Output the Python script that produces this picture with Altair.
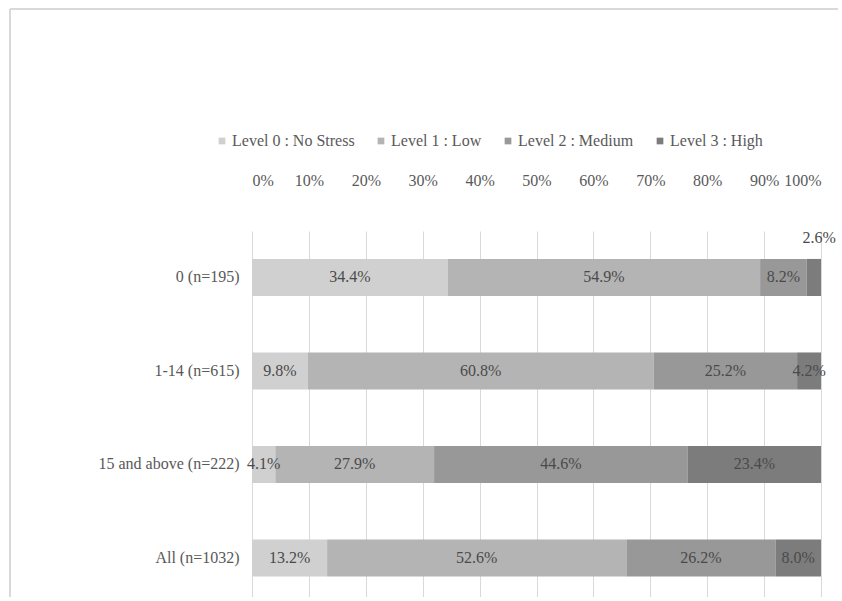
import altair as alt
import pandas as pd

groups = ["0 (n=195)", "1-14 (n=615)", "15 and above (n=222)", "All (n=1032)"]
levels = ["Level 0 : No Stress", "Level 1 : Low", "Level 2 : Medium", "Level 3 : High"]
level0 = [34.4, 9.8, 4.1, 13.2]
level1 = [54.9, 60.8, 27.9, 52.6]
level2 = [8.2, 25.2, 44.6, 26.2]
level3 = [2.6, 4.2, 23.4, 8.0]
colors = ["#d0d0d0", "#b4b4b4", "#989898", "#7c7c7c"]
ticks = [0, 10, 20, 30, 40, 50, 60, 70, 80, 90, 100]

rows = []
for gi, g in enumerate(groups):
    for li, series in enumerate([level0, level1, level2, level3]):
        rows.append({"group": g, "level": levels[li], "order": li, "value": series[gi]})
df = pd.DataFrame(rows)

FONT = "Liberation Serif, Times New Roman, DejaVu Serif, serif"
FS = 16

base = alt.Chart(df).transform_stack(
    stack="value", groupby=["group"], as_=["x0", "x1"], sort=[alt.SortField("order")]
).transform_calculate(
    mid="(datum.x0 + datum.x1) / 2",
    label="format(datum.value, '.1f') + '%'",
)

yenc = alt.Y(
    "group:N",
    sort=groups,
    title=None,
    scale=alt.Scale(paddingInner=0.604, paddingOuter=0.259, align=0.577),
    axis=alt.Axis(
        labelFont=FONT, labelFontSize=FS, labelColor="#595959",
        labelPadding=13, ticks=False, domain=False, grid=False,
    ),
)

xscale = alt.Scale(domain=[0, 100], nice=False, clamp=True)

bars = base.mark_bar().encode(
    x=alt.X(
        "x0:Q",
        scale=xscale,
        title=None,
        axis=alt.Axis(
            orient="top", values=ticks, labelExpr="datum.value + '%'",
            labelFont=FONT, labelFontSize=FS, labelColor="#595959",
            labelPadding=43, ticks=False, domain=False,
            grid=True, gridColor="#d9d9d9", gridWidth=1,
        ),
    ),
    x2="x1:Q",
    y=yenc,
    color=alt.Color(
        "level:N",
        sort=levels,
        scale=alt.Scale(domain=levels, range=colors),
        legend=alt.Legend(
            title=None, orient="none", direction="horizontal", columns=4,
            legendX=-38, legendY=-98,
            symbolType="square", symbolSize=45, symbolStrokeWidth=0,
            labelFont=FONT, labelFontSize=FS, labelColor="#595959",
            labelOffset=2, columnPadding=18,
        ),
    ),
    order=alt.Order("order:Q"),
)

inside = base.transform_filter("datum.value >= 3").mark_text(
    font=FONT, fontSize=FS, color="#4a4a4a"
).encode(
    x=alt.X("mid:Q", scale=xscale),
    y=alt.Y("group:N", sort=groups),
    text="label:N",
)

outside = base.transform_filter("datum.value < 3").mark_text(
    font=FONT, fontSize=FS, color="#4a4a4a", dy=-39, dx=5
).encode(
    x=alt.X("mid:Q", scale=xscale),
    y=alt.Y("group:N", sort=groups),
    text="label:N",
)

frame_top = alt.Chart(df).mark_rule(color="#d9d9d9", strokeWidth=1.5).encode(
    x=alt.value(-242), x2=alt.value(586), y=alt.value(-222)
)
frame_left = alt.Chart(df).mark_rule(color="#d9d9d9", strokeWidth=1.5).encode(
    x=alt.value(-242), y=alt.value(-222), y2=alt.value(366)
)

chart = alt.layer(frame_top, frame_left, bars, inside, outside).properties(
    width=569,
    height=366,
    autosize=alt.AutoSizeParams(type="none"),
    padding={"left": 252, "top": 231, "right": 21, "bottom": 0},
    background="white",
).configure_view(strokeWidth=0)

chart.save("out.html", embed_options={"renderer": "svg", "actions": False})
